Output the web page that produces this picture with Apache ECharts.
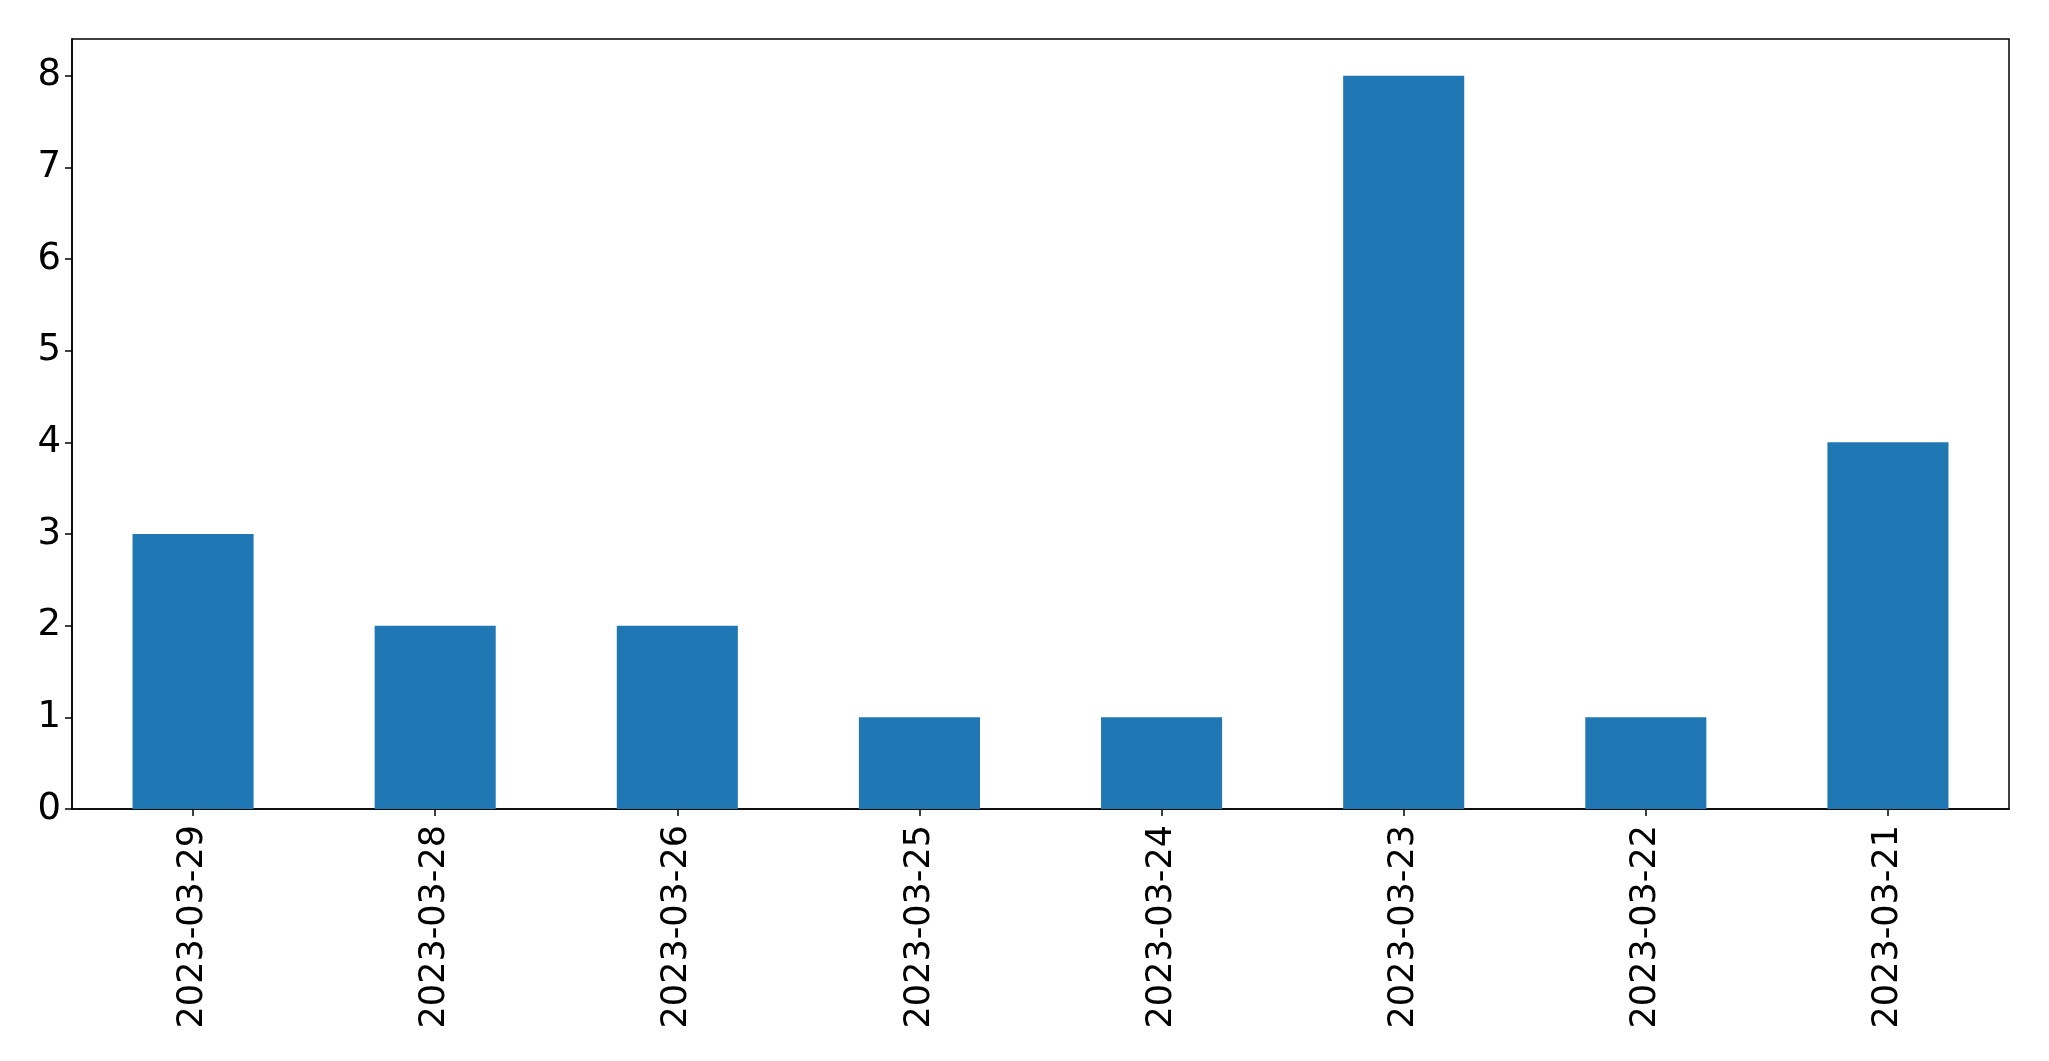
<!DOCTYPE html>
<html>
<head>
<meta charset="utf-8">
<script src="https://cdn.jsdelivr.net/npm/echarts@6/dist/echarts.min.js"></script>
<style>
html,body{margin:0;padding:0;background:#fff;}
#chart{width:2049px;height:1061px;}
</style>
</head>
<body>
<div id="chart"></div>
<script>
const categories = ['2023-03-29','2023-03-28','2023-03-26','2023-03-25','2023-03-24','2023-03-23','2023-03-22','2023-03-21'];
const values = [3, 2, 2, 1, 1, 8, 1, 4];
const yTicks = [0, 1, 2, 3, 4, 5, 6, 7, 8];

const chart = echarts.init(document.getElementById('chart'));
const font = 'DejaVu Sans';
chart.setOption({
  animation: false,
  backgroundColor: '#fff',
  grid: {
    left: 72, right: 40, top: 39, bottom: 252,
    show: true, borderColor: '#000', borderWidth: 1.5, backgroundColor: 'transparent'
  },
  xAxis: {
    type: 'category',
    data: categories,
    boundaryGap: true,
    axisLine: { show: true, lineStyle: { color: '#000', width: 1.5 } },
    axisTick: { show: true, alignWithLabel: true, length: 7, lineStyle: { color: '#000', width: 1.5 } },
    axisLabel: { rotate: 90, fontFamily: font, fontSize: 35, color: '#000', margin: 16, interval: 0 },
    splitLine: { show: false }
  },
  yAxis: {
    type: 'value',
    min: 0, max: 8.4, interval: 1,
    axisLine: { show: true, lineStyle: { color: '#000', width: 1.5 } },
    axisTick: { show: true, length: 7, lineStyle: { color: '#000', width: 1.5 } },
    axisLabel: {
      fontFamily: font, fontSize: 37, color: '#000', margin: 11, showMaxLabel: false,
      formatter: v => (yTicks.indexOf(v) >= 0 ? String(v) : '')
    },
    splitLine: { show: false }
  },
  series: [{
    type: 'bar',
    data: values,
    barWidth: '50%',
    itemStyle: { color: '#1f77b4' }
  }]
});
</script>
</body>
</html>
